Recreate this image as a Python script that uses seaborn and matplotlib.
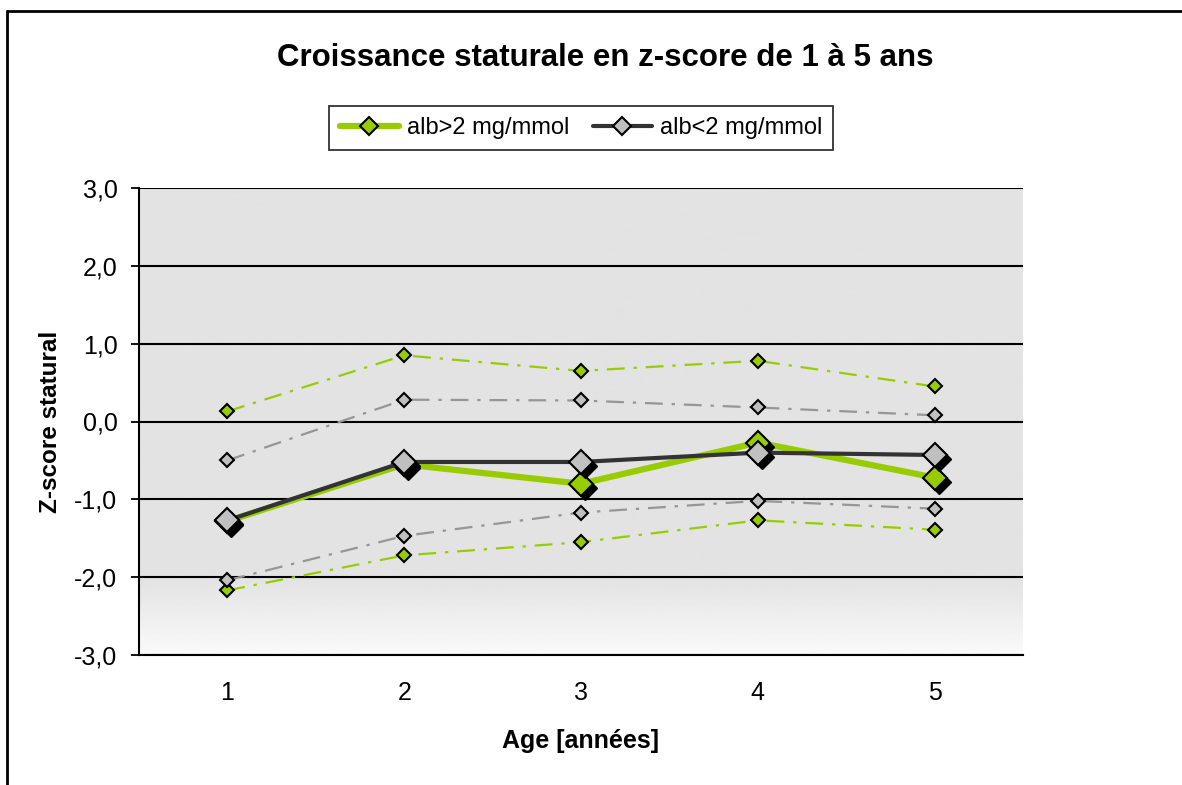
import numpy as np
import pandas as pd
import matplotlib
matplotlib.use("Agg")
from matplotlib import pyplot as plt
from matplotlib.transforms import offset_copy
import seaborn as sns

ages = [1, 2, 3, 4, 5]
green_mean = [-1.28, -0.55, -0.80, -0.27, -0.72]
green_upper = [0.13, 0.85, 0.65, 0.78, 0.45]
green_lower = [-2.17, -1.72, -1.55, -1.27, -1.39]
gray_mean = [-1.27, -0.52, -0.52, -0.40, -0.43]
gray_upper = [-0.50, 0.28, 0.27, 0.18, 0.08]
gray_lower = [-2.04, -1.47, -1.17, -1.02, -1.12]
yticks = [-3, -2, -1, 0, 1, 2, 3]

GREEN = "#99cc00"
DARK = "#333333"
GRAY_DASH = "#969696"
GRAY_FILL = "#c0c0c0"

sns.set_theme(style="white")
plt.rcParams["font.family"] = ["Liberation Sans", "DejaVu Sans"]
plt.rcParams["text.color"] = "black"
plt.rcParams["axes.labelcolor"] = "black"
plt.rcParams["xtick.color"] = "black"
plt.rcParams["ytick.color"] = "black"

fig = plt.figure(figsize=(11.82, 7.85), dpi=100)
ax = fig.add_axes([139 / 1182, 1 - 655 / 785, (1023 - 139) / 1182, (655 - 188) / 785])

# plot area background: flat gray that fades to white near the bottom
grad = np.ones((200, 1))
t = np.linspace(0, 1, 200)
grad[:, 0] = np.where(t < 0.84, 0.89, 0.89 + (t - 0.84) / 0.16 * 0.09)
ax.imshow(grad, cmap="gray", vmin=0, vmax=1, aspect="auto",
          extent=[0, 1, 0, 1], transform=ax.transAxes, zorder=0,
          interpolation="bilinear")

for y in yticks:
    ax.axhline(y, color="black", lw=1.5, zorder=1)

dash = (0, (8, 4, 1.5, 4))
for vals, col in [(green_upper, GREEN), (green_lower, GREEN),
                  (gray_upper, GRAY_DASH), (gray_lower, GRAY_DASH)]:
    sns.lineplot(x=ages, y=vals, ax=ax, color=col, lw=1.6, linestyle=dash, zorder=2)
    fill = GREEN if col == GREEN else GRAY_FILL
    ax.plot(ages, vals, ls="none", marker="D", ms=7, mfc=fill, mec="black",
            mew=1.5, zorder=3)

shadow = offset_copy(ax.transData, fig=fig, x=4, y=-4, units="dots")
sns.lineplot(x=ages, y=green_mean, ax=ax, color=GREEN, lw=4.5, zorder=4)
ax.plot(ages, green_mean, ls="none", marker="D", ms=12.5, mfc="black", mec="black",
        transform=shadow, zorder=5)
ax.plot(ages, green_mean, ls="none", marker="D", ms=12.5, mfc=GREEN, mec="black",
        mew=1.5, zorder=5)
sns.lineplot(x=ages, y=gray_mean, ax=ax, color=DARK, lw=3.0, zorder=6)
ax.plot(ages, gray_mean, ls="none", marker="D", ms=12.5, mfc="black", mec="black",
        transform=shadow, zorder=7)
ax.plot(ages, gray_mean, ls="none", marker="D", ms=12.5, mfc=GRAY_FILL, mec="black",
        mew=1.5, zorder=7)

ax.set_xlim(0.5, 5.5)
ax.set_ylim(-3, 3)
ax.set_yticks(yticks)
ax.set_yticklabels([f"{v:.1f}".replace(".", ",") for v in yticks], fontsize=18)
ax.set_xticks(ages)
ax.set_xticklabels([str(a) for a in ages], fontsize=18)
ax.set_xticks(np.arange(0.5, 6, 1), minor=True)
ax.tick_params(axis="x", which="major", length=0, pad=19)
ax.tick_params(axis="x", which="minor", length=6, width=1.3, color="black", direction="out")
ax.tick_params(axis="y", length=6, width=1.3, color="black", direction="out", left=True, pad=9.5)

for s in ["top", "right"]:
    ax.spines[s].set_visible(False)
for s in ["left", "bottom"]:
    ax.spines[s].set_color("black")
    ax.spines[s].set_linewidth(1.5)
    ax.spines[s].set_zorder(8)

ax.set_xlabel("Age [années]", fontsize=18, fontweight="bold", labelpad=17)
ax.set_ylabel("Z-score statural", fontsize=17.5, fontweight="bold", labelpad=9)

fig.text(605 / 1182, 1 - 58 / 785, "Croissance staturale en z-score de 1 à 5 ans",
         ha="center", va="center", fontsize=22.5, fontweight="bold")

h1 = plt.Line2D([], [], color=GREEN, lw=4.5, marker="D", ms=9, mfc=GREEN, mec="black", mew=1.5)
h2 = plt.Line2D([], [], color=DARK, lw=3.0, marker="D", ms=9, mfc=GRAY_FILL, mec="black", mew=1.5)
leg = fig.legend([h1, h2], ["alb>2 mg/mmol", "alb<2 mg/mmol"], ncol=2,
                 loc="center", bbox_to_anchor=(581 / 1182, 1 - 128 / 785),
                 fontsize=17, frameon=True, fancybox=False, handlelength=2.5,
                 handletextpad=0.35, columnspacing=1.0, borderpad=0.45)
leg.get_frame().set_edgecolor("black")
leg.get_frame().set_linewidth(1.3)

# outer chart border (left and top visible)
fig.add_artist(plt.Line2D([7 / 1182, 7 / 1182], [0, 1 - 11 / 785], color="black",
                          lw=2, transform=fig.transFigure))
fig.add_artist(plt.Line2D([7 / 1182, 1], [1 - 11 / 785, 1 - 11 / 785], color="black",
                          lw=2, transform=fig.transFigure))

fig.savefig("out.png", dpi=100)
